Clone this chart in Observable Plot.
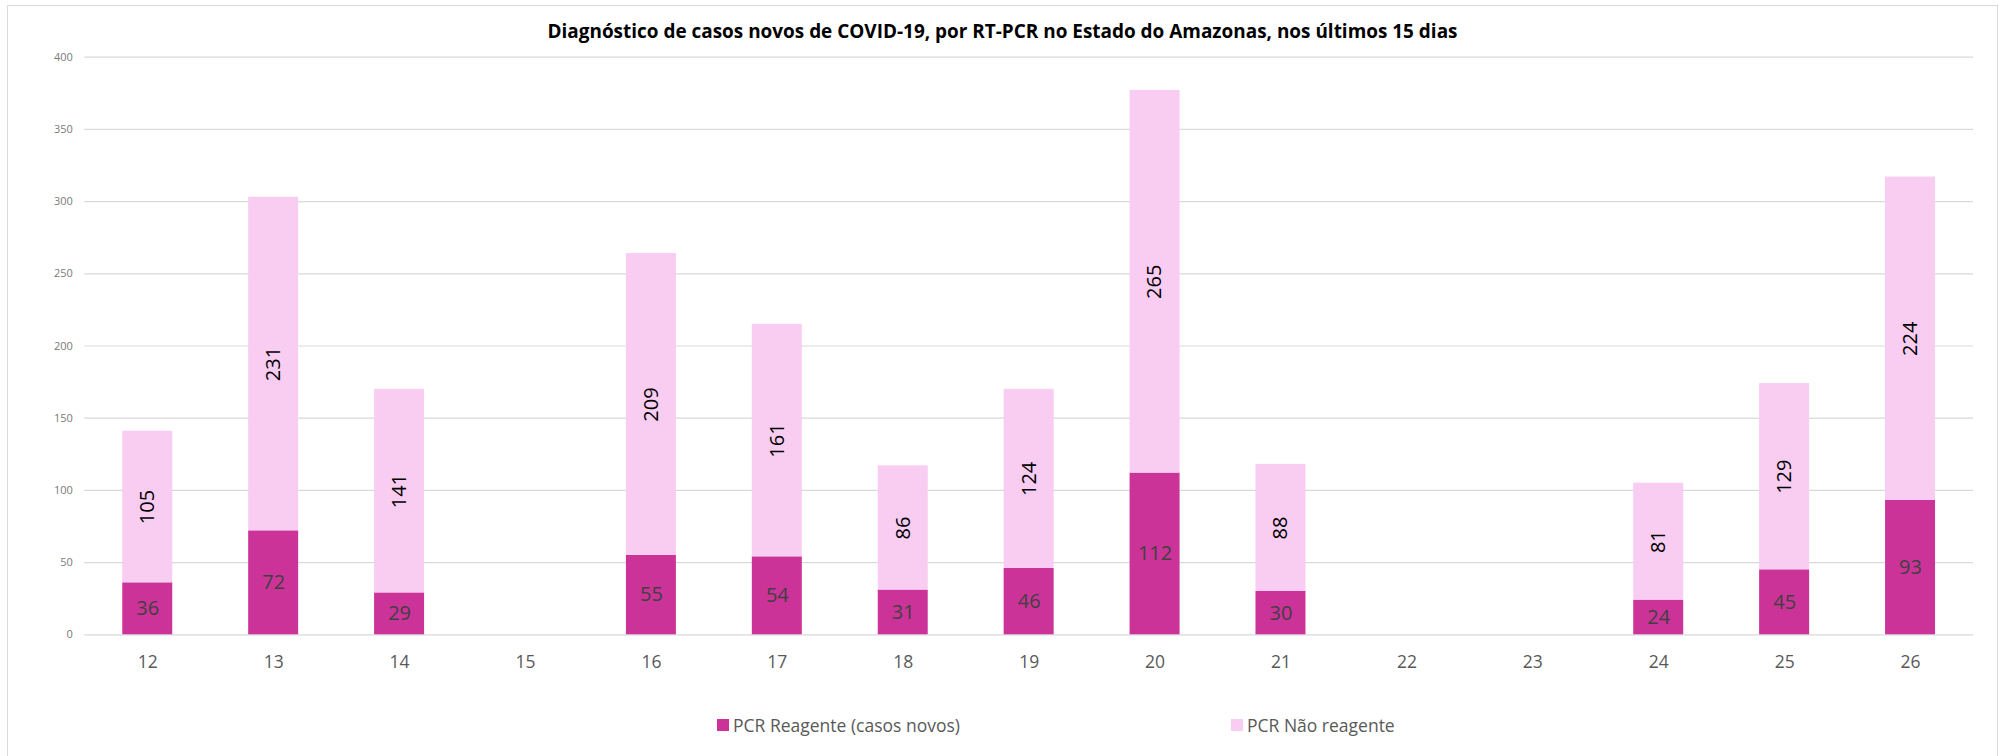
<!DOCTYPE html>
<html><head><meta charset="utf-8">
<script src="https://cdn.jsdelivr.net/npm/d3@7"></script>
<script src="https://cdn.jsdelivr.net/npm/@observablehq/plot@0.6"></script>
<style>
body{margin:0;background:#fff;font-family:"Open Sans",sans-serif;}
#wrap{position:relative;width:2005px;height:756px;overflow:hidden;background:#fff}
#frame{position:absolute;left:7px;top:5px;width:1991px;height:770px;border:1.5px solid #d9d9d9;box-sizing:border-box}
#title{position:absolute;left:0;top:18px;width:2005px;text-align:center;font-weight:700;font-size:17px;color:#000;line-height:26px;white-space:nowrap}
#chart{position:absolute;left:0;top:0}
.leg{position:absolute;top:713px;font-size:17.5px;color:#595959;line-height:24px;display:flex;align-items:center;white-space:nowrap}
.sw{width:12px;height:12px;margin-right:4px;flex:none}
</style></head>
<body>
<div id="wrap">
  <div id="frame"></div>
  <div id="chart"></div>
  <div id="title"><span id="titleText"></span></div>
  <div id="legend"></div>
</div>
<script>
const titleText = "Diagnóstico de casos novos de COVID-19, por RT-PCR no Estado do Amazonas, nos últimos 15 dias";
const days = ["12","13","14","15","16","17","18","19","20","21","22","23","24","25","26"];
const reagente =    [36, 72, 29, null, 55, 54, 31, 46, 112, 30, null, null, 24, 45, 93];
const naoReagente = [105, 231, 141, null, 209, 161, 86, 124, 265, 88, null, null, 81, 129, 224];
const yTicks = [0, 50, 100, 150, 200, 250, 300, 350, 400];
const seriesNames = ["PCR Reagente (casos novos)", "PCR Não reagente"];
const seriesColors = ["#CC3399", "#F9CCF2"];

// long-format table for stacking
const rows = [];
days.forEach((d, i) => {
  if (reagente[i] != null) rows.push({day: d, serie: seriesNames[0], value: reagente[i]});
  if (naoReagente[i] != null) rows.push({day: d, serie: seriesNames[1], value: naoReagente[i]});
});

const chart = Plot.plot({
  width: 2005,
  height: 690,
  marginLeft: 84.3,
  marginRight: 32,
  marginTop: 56.7,
  marginBottom: 55.7,
  style: {fontFamily: '"Open Sans", sans-serif', background: "transparent"},
  x: {domain: days, paddingInner: 0.603, paddingOuter: 0.3015, round: false, label: null},
  y: {domain: [0, 400], label: null},
  color: {domain: seriesNames, range: seriesColors},
  marks: [
    Plot.ruleY(yTicks, {stroke: "#d9d9d9", strokeWidth: 1.2}),
    Plot.barY(rows, Plot.stackY({x: "day", y: "value", fill: "serie", order: seriesNames})),
    Plot.text(rows.filter(r => r.serie === seriesNames[0]), Plot.stackY({
      x: "day", y: "value", z: "serie", order: seriesNames, text: d => String(d.value),
      fill: "#404040", fontSize: 20
    })),
    Plot.text(rows, Plot.stackY({
      x: "day", y: "value", z: "serie", order: seriesNames,
      text: d => d.serie === seriesNames[1] ? String(d.value) : "",
      fill: "#000", fontSize: 20, rotate: -90
    })),
    Plot.axisX({tickSize: 0, tickPadding: 21, fontSize: 17.5, color: "#595959", label: null}),
    Plot.axisY({ticks: yTicks, tickSize: 0, tickPadding: 12, fontSize: 11, color: "#7a7a7a", label: null})
  ]
});
document.getElementById("chart").appendChild(chart);

// title
const tt = document.getElementById("titleText");
tt.textContent = titleText;
const tw = tt.getBoundingClientRect().width;
document.getElementById("title").style.fontSize = (17 * 911 / tw) + "px";

// legend
const legend = document.getElementById("legend");
const legX = [717, 1231];
seriesNames.forEach((name, i) => {
  const item = document.createElement("div");
  item.className = "leg";
  item.style.left = legX[i] + "px";
  const sw = document.createElement("div");
  sw.className = "sw";
  sw.style.background = seriesColors[i];
  const lab = document.createElement("span");
  lab.textContent = name;
  item.appendChild(sw);
  item.appendChild(lab);
  legend.appendChild(item);
});
</script>
</body></html>
